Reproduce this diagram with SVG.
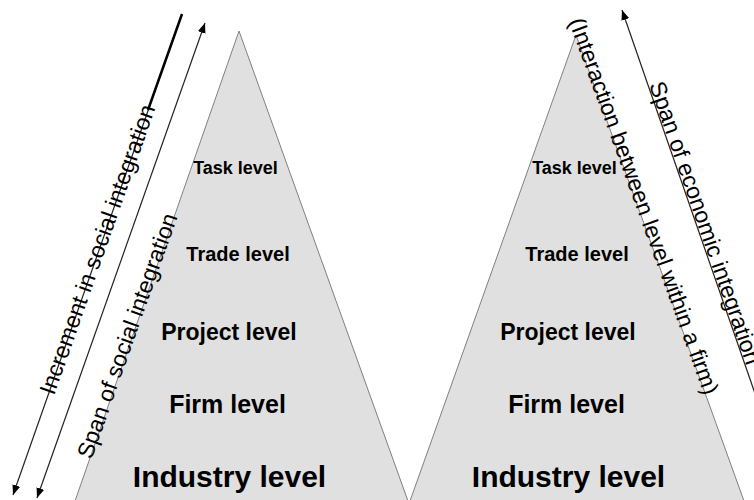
<svg xmlns="http://www.w3.org/2000/svg" width="754" height="500" viewBox="0 0 754 500">
  <style>
    .pyramid { fill: #e0e0e0; stroke: #808080; stroke-width: 1; }
    .level { font-family: "Liberation Sans", Arial, sans-serif; font-weight: bold; fill: #000; text-anchor: middle; }
    .axis-label { font-family: "Liberation Sans", Arial, sans-serif; font-size: 23px; fill: #000; }
    .arrow { fill: none; stroke: #222; stroke-width: 1.2; }
  </style>
  <defs>
    <marker id="head" viewBox="0 0 10 8" refX="10" refY="4" markerWidth="10" markerHeight="8" markerUnits="userSpaceOnUse" orient="auto-start-reverse">
      <path d="M0,0 L10,4 L0,8 z" fill="#000"/>
    </marker>
  </defs>

  <rect width="754" height="500" fill="#fff"/>

  <!-- social integration pyramid -->
  <g id="pyramid-social">
    <polygon class="pyramid" points="239,31 75,501 408,501"/>
    <text class="level" x="235.5" y="174" font-size="18">Task level</text>
    <text class="level" x="238" y="261" font-size="20">Trade level</text>
    <text class="level" x="229" y="340" font-size="23">Project level</text>
    <text class="level" x="227.5" y="413" font-size="25">Firm level</text>
    <text class="level" x="229.5" y="487" font-size="30">Industry level</text>
  </g>

  <!-- economic integration pyramid -->
  <g id="pyramid-economic">
    <polygon class="pyramid" points="576,35 410,501 744,501"/>
    <text class="level" x="574.5" y="174" font-size="18">Task level</text>
    <text class="level" x="577" y="261" font-size="20">Trade level</text>
    <text class="level" x="568" y="340" font-size="23">Project level</text>
    <text class="level" x="566.5" y="413" font-size="25">Firm level</text>
    <text class="level" x="568.5" y="487" font-size="30">Industry level</text>
  </g>

  <!-- span / increment arrows with their captions -->
  <g id="connectors">
    <g id="increment-social">
      <line class="arrow" x1="182" y1="14" x2="13" y2="495" marker-end="url(#head)"/>
      <line x1="182" y1="14" x2="148" y2="110" stroke="#000" stroke-width="2.5"/>
      <text class="axis-label" text-anchor="middle" transform="translate(104.7,252) rotate(-70.6)">Increment in social integration</text>
    </g>
    <g id="span-social">
      <line class="arrow" x1="37" y1="498" x2="205" y2="23" stroke="#444" stroke-width="1" marker-start="url(#head)" marker-end="url(#head)"/>
      <text class="axis-label" text-anchor="middle" transform="translate(134.6,338.3) rotate(-70.5)">Span of social integration</text>
    </g>
    <g id="span-economic">
      <line class="arrow" x1="760" y1="408" x2="622" y2="10" marker-end="url(#head)"/>
      <text class="axis-label" text-anchor="start" transform="translate(649,84.7) rotate(70.9)">Span of economic integration</text>
    </g>
    <g id="interaction-firm">
      <text class="axis-label" text-anchor="middle" transform="translate(636.6,208.7) rotate(70.1)">(Interaction between level within a firm)</text>
    </g>
  </g>
</svg>
